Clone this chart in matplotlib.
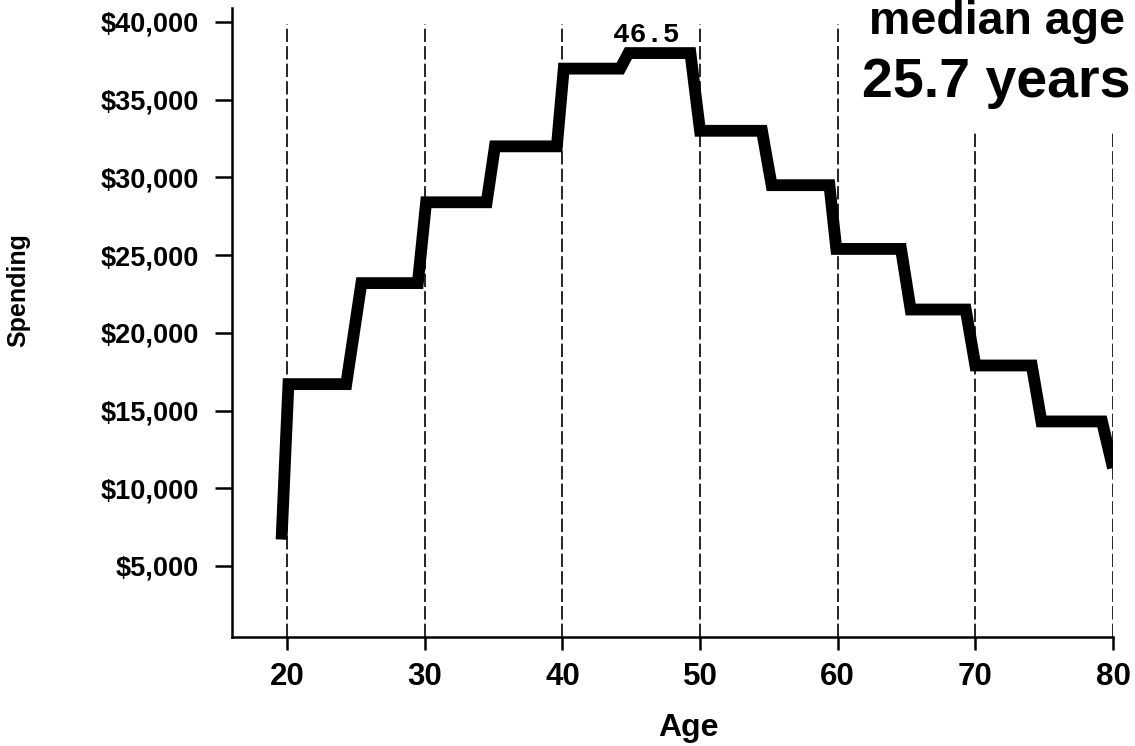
import matplotlib
matplotlib.use("Agg")
import matplotlib.pyplot as plt

# Spending by age (stepped profile)
ages = [19.6, 20.1, 24.3, 25.4, 29.5, 30.1, 34.5, 35.1, 39.6, 40.1, 44.2, 44.8,
        49.3, 50.0, 54.5, 55.2, 59.4, 59.9, 64.6, 65.3, 69.3, 70.0, 74.1, 74.8,
        79.2, 80.0]
spending = [6700, 16700, 16700, 23200, 23200, 28400, 28400, 32000, 32000, 37000,
            37000, 38000, 38000, 33000, 33000, 29500, 29500, 25400, 25400, 21500,
            21500, 17900, 17900, 14300, 14300, 11300]

grid_ages = [20, 30, 40, 50, 60, 70, 80]
grid_tops = [39850, 39850, 39850, 39850, 39850, 33000, 33000]
y_ticks = [5000, 10000, 15000, 20000, 25000, 30000, 35000, 40000]
y_labels = ['$5,000', '$10,000', '$15,000', '$20,000', '$25,000', '$30,000',
            '$35,000', '$40,000']
peak_label = '46.5'

plt.rcParams['font.family'] = ['Liberation Sans', 'DejaVu Sans']

fig = plt.figure(figsize=(11.35, 7.46), dpi=100)
ax = fig.add_axes([232 / 1135, 1 - 637 / 746, (1113 - 232) / 1135, (637 - 8) / 746])

# dashed reference lines
for a, top in zip(grid_ages, grid_tops):
    ax.plot([a, a], [431, top], color='black', lw=1.2, linestyle=(0, (8, 2.5)))

# spending curve
ax.plot(ages, spending, color='black', lw=8.5, solid_joinstyle='miter',
        solid_capstyle='butt')

ax.set_xlim(16, 80)
ax.set_ylim(431, 40900)
ax.set_xticks(grid_ages)
ax.set_yticks(y_ticks)
ax.set_yticklabels(y_labels)

for s in ['top', 'right']:
    ax.spines[s].set_visible(False)
for s in ['left', 'bottom']:
    ax.spines[s].set_linewidth(1.8)

ax.tick_params(axis='y', length=12, width=1.8, pad=12, labelsize=19.5)
ax.tick_params(axis='x', length=9, width=1.8, pad=9, labelsize=22.5)
for lab in ax.get_xticklabels() + ax.get_yticklabels():
    lab.set_fontweight('bold')

ax.set_xlabel('Age', fontsize=23, fontweight='bold', va='center')
ax.xaxis.set_label_coords(0.5176, -0.145)
ax.set_ylabel('Spending', fontsize=18, fontweight='bold', va='center')
ax.yaxis.set_label_coords(-0.243, 0.552)

ax.text(46.1, 39170, peak_label, ha='center', va='center', fontsize=20,
        fontweight='bold', family=['Liberation Mono', 'DejaVu Sans Mono'])

fig.text(869 / 1135, 1 - 34 / 746, 'median age', fontsize=33.5, fontweight='bold',
         ha='left', va='baseline')
fig.text(862 / 1135, 1 - 97 / 746, '25.7 years', fontsize=40, fontweight='bold',
         ha='left', va='baseline')

fig.savefig('out.png', dpi=100)
